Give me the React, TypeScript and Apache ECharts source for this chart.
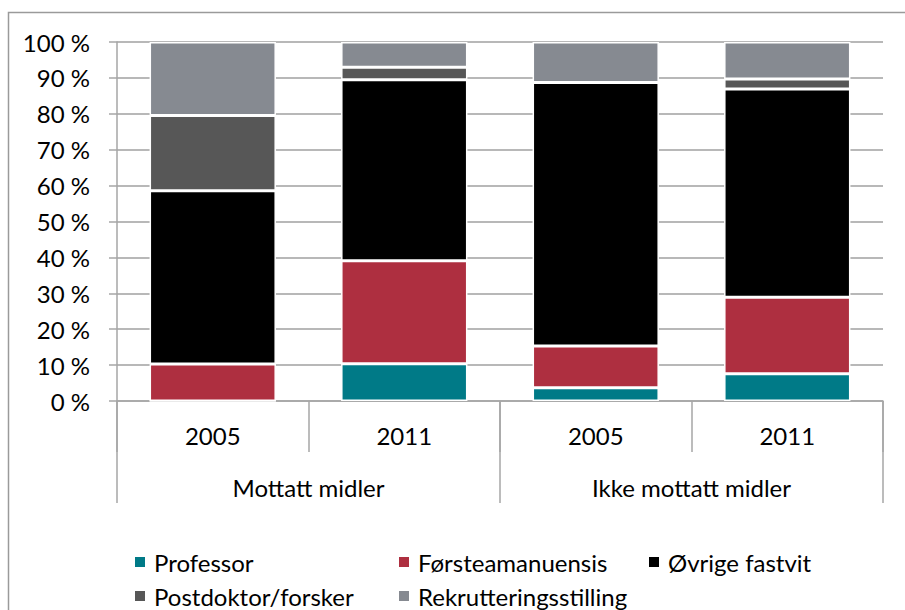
import React, { useEffect, useRef } from "react";
import * as echarts from "echarts";

const years = ["2005", "2011", "2005", "2011"];
const groups = ["Mottatt midler", "Ikke mottatt midler"];
const seriesNames = [
  "Professor",
  "Førsteamanuensis",
  "Øvrige fastvit",
  "Postdoktor/forsker",
  "Rekrutteringsstilling",
];
const professor = [0, 10.4, 3.7, 7.6];
const forsteamanuensis = [10.3, 28.7, 11.6, 21.3];
const ovrigeFastvit = [48.3, 50.4, 73.4, 58.0];
const postdoktor = [20.9, 3.5, 0, 2.8];
const rekruttering = [20.5, 7.0, 11.3, 10.3];
const colors = ["#007A87", "#AE2F40", "#000000", "#575757", "#868A91"];

const FONT = "Lato, 'Liberation Sans', Arial, sans-serif";
const FS = 24;

export default function App() {
  const ref = useRef<HTMLDivElement>(null);
  useEffect(() => {
    if (!ref.current) return;
    const chart = echarts.init(ref.current, undefined, { renderer: "svg" });
    const values = [professor, forsteamanuensis, ovrigeFastvit, postdoktor, rekruttering];
    const legendPos = [
      { left: 133, top: 550 },
      { left: 397, top: 550 },
      { left: 647, top: 550 },
      { left: 133, top: 584 },
      { left: 397, top: 584 },
    ];
    const axisColor = "#a6a6a6";
    chart.setOption({
      animation: false,
      textStyle: { fontFamily: FONT },
      graphic: [
        {
          type: "rect",
          shape: { x: 8.5, y: 12.5, width: 920, height: 620 },
          style: { fill: "none", stroke: "#9a9a9a", lineWidth: 1.5 },
          silent: true,
        },
      ],
      grid: { left: 117, right: 22, top: 42, bottom: 209, containLabel: false },
      legend: seriesNames.map((n, i) => ({
        data: [n],
        left: legendPos[i].left,
        top: legendPos[i].top,
        padding: 0,
        icon: "rect",
        itemWidth: 12,
        itemHeight: 12,
        selectedMode: false,
        textStyle: {
          fontSize: FS,
          lineHeight: 24,
          color: "#000",
          fontFamily: FONT,
          padding: [0, 0, 0, 3],
        },
      })),
      xAxis: [
        {
          type: "category",
          data: years,
          position: "bottom",
          axisLine: { show: true, lineStyle: { color: axisColor, width: 1.5 } },
          axisTick: { show: true, interval: 0, length: 51, lineStyle: { color: axisColor, width: 1.5 } },
          axisLabel: { fontSize: FS, color: "#000", margin: 22, fontFamily: FONT },
          splitLine: { show: false },
        },
        {
          type: "category",
          data: groups,
          position: "bottom",
          axisLine: { show: false },
          axisTick: { show: true, interval: 0, length: 102, lineStyle: { color: axisColor, width: 1.5 } },
          axisLabel: { fontSize: FS, color: "#000", margin: 74, fontFamily: FONT },
          splitLine: { show: false },
        },
      ],
      yAxis: {
        type: "value",
        min: 0,
        max: 100,
        interval: 10,
        axisLine: { show: true, lineStyle: { color: axisColor, width: 1.5 } },
        axisTick: { show: true, length: 8, lineStyle: { color: axisColor, width: 1.5 } },
        axisLabel: { fontSize: FS, color: "#000", margin: 27, formatter: "{value} %", fontFamily: FONT },
        splitLine: { show: true, lineStyle: { color: "#a0a0a0", width: 1.5 } },
      },
      series: seriesNames.map((n, i) => ({
        name: n,
        type: "bar",
        stack: "total",
        xAxisIndex: 0,
        barWidth: "66%",
        data: values[i],
        itemStyle: { color: colors[i], borderColor: "#ffffff", borderWidth: 1.5 },
      })),
    });
    return () => chart.dispose();
  }, []);
  return (
    <div
      ref={ref}
      style={{ position: "absolute", left: 0, top: 0, width: 905, height: 610, background: "#fff" }}
    />
  );
}
